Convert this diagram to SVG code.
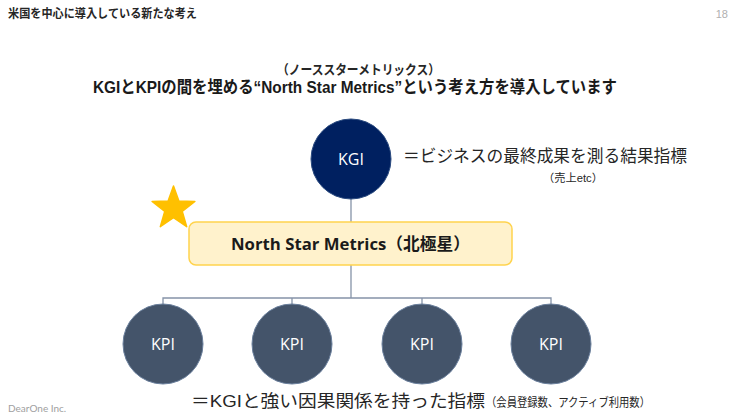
<svg xmlns="http://www.w3.org/2000/svg" width="752" height="420" viewBox="0 0 752 420">
<style>
.jp{font-family:"Liberation Sans","Noto Sans CJK JP",sans-serif;}
.dk{fill:#262626;}
.kgi{fill:#002060;stroke:#2a4a7f;stroke-width:1;}
.kpi{fill:#44546A;stroke:#6a7f9c;stroke-width:1;}
.ct{font-family:"Open Sans","Noto Sans",sans-serif;font-size:16px;fill:#ffffff;text-anchor:middle;}
.conn{stroke:#8593a8;stroke-width:1.3;fill:none;}
</style>
<rect width="752" height="420" fill="#ffffff"/>
<g id="header">
<text class="jp dk" x="8" y="18" font-size="12" font-weight="bold" textLength="189" lengthAdjust="spacingAndGlyphs">米国を中心に導入している新たな考え</text>
<text x="728" y="18" font-family="Liberation Sans,sans-serif" font-size="11" fill="#b0b0b0" text-anchor="end">18</text>
</g>
<g id="title">
<text class="jp dk" x="277" y="74" font-size="13" font-weight="bold" textLength="163" lengthAdjust="spacingAndGlyphs">（ノーススターメトリックス）</text>
<text class="jp" x="93" y="93" font-size="17" font-weight="bold" fill="#1a1a1a" textLength="524" lengthAdjust="spacingAndGlyphs">KGIとKPIの間を埋める“North Star Metrics”という考え方を導入しています</text>
</g>
<g id="connectors">
<line class="conn" x1="351" y1="199" x2="351" y2="222"/>
<line class="conn" x1="351" y1="265" x2="351" y2="298"/>
<polyline class="conn" points="163,304 163,298 551,298 551,304"/>
<line class="conn" x1="292" y1="298" x2="292" y2="304"/>
<line class="conn" x1="422" y1="298" x2="422" y2="304"/>
</g>
<g id="kgi">
<circle class="kgi" cx="351" cy="159" r="40"/>
<text class="ct" x="351" y="165">KGI</text>
</g>
<g id="kgi-desc">
<text class="jp dk" x="403" y="162" font-size="17" textLength="284" lengthAdjust="spacingAndGlyphs">＝ビジネスの最終成果を測る結果指標</text>
<text class="jp dk" x="543" y="182" font-size="11" textLength="60" lengthAdjust="spacingAndGlyphs">（売上etc）</text>
</g>
<g id="star">
<polygon points="173.5,186 178.9,201.1 194.9,201.5 182.2,211.3 186.7,226.7 173.5,217.7 160.3,226.7 164.8,211.3 152.1,201.5 168.1,201.1" fill="#FFC000" stroke="#FFC000" stroke-width="1.5" stroke-linejoin="round"/>
</g>
<g id="nsm">
<rect x="189" y="222" width="323" height="43" rx="7" fill="#FFF2CC" stroke="#FFD34D" stroke-width="1.5"/>
<text x="231" y="250" font-family="'Open Sans','Noto Sans CJK JP',sans-serif" font-size="16.5" font-weight="bold" fill="#1a1a1a" textLength="239" lengthAdjust="spacingAndGlyphs">North Star Metrics（北極星）</text>
</g>
<g id="kpi1"><circle class="kpi" cx="163" cy="344" r="40"/><text class="ct" x="163" y="350">KPI</text></g>
<g id="kpi2"><circle class="kpi" cx="292" cy="344" r="40"/><text class="ct" x="292" y="350">KPI</text></g>
<g id="kpi3"><circle class="kpi" cx="422" cy="344" r="40"/><text class="ct" x="422" y="350">KPI</text></g>
<g id="kpi4"><circle class="kpi" cx="551" cy="344" r="40"/><text class="ct" x="551" y="350">KPI</text></g>
<g id="kpi-desc">
<text class="jp dk" x="191" y="407" font-size="17" textLength="294" lengthAdjust="spacingAndGlyphs">＝KGIと強い因果関係を持った指標</text>
<text class="jp dk" x="486" y="407" font-size="12" textLength="164" lengthAdjust="spacingAndGlyphs">（会員登録数、アクティブ利用数）</text>
</g>
<g id="footer">
<text x="8" y="412" font-family="Lato,'Liberation Sans',sans-serif" font-size="10" fill="#a0a0a0">DearOne Inc.</text>
</g>
</svg>
